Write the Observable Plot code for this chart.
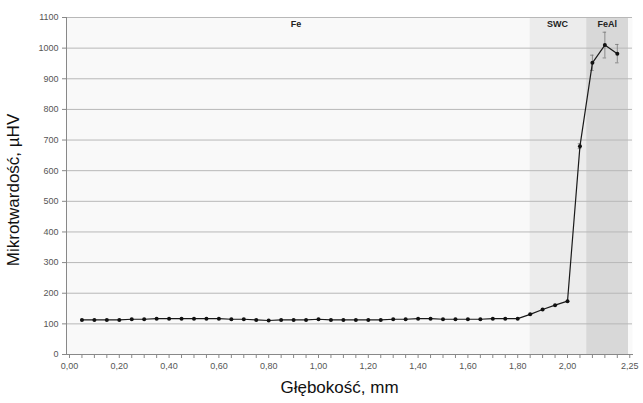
<!DOCTYPE html>
<html><head><meta charset="utf-8">
<script src="https://cdn.jsdelivr.net/npm/d3@7"></script>
<script src="https://cdn.jsdelivr.net/npm/@observablehq/plot@0.6"></script>
<style>
body{margin:0;background:#fff;font-family:"Liberation Sans",Arial,sans-serif;}
#wrap{position:relative;width:643px;height:403px;}
#ytitle{position:absolute;left:4px;top:190px;transform-origin:0 0;transform:rotate(-90deg) translate(-50%,0);font-size:17px;color:#111;white-space:nowrap;}
#xtitle{position:absolute;left:0;width:643px;text-align:center;padding-left:36px;box-sizing:border-box;top:378px;font-size:17px;color:#111;}
</style></head><body>
<div id="wrap"><div id="chart"></div>
<div id="ytitle">Mikrotwardość, µHV</div>
<div id="xtitle">Głębokość, mm</div></div>
<script>
const depth = [0.05,0.10,0.15,0.20,0.25,0.30,0.35,0.40,0.45,0.50,0.55,0.60,0.65,0.70,0.75,0.80,0.85,0.90,0.95,1.00,1.05,1.10,1.15,1.20,1.25,1.30,1.35,1.40,1.45,1.50,1.55,1.60,1.65,1.70,1.75,1.80,1.85,1.90,1.95,2.00,2.05,2.10,2.15,2.20];
const hardness = [113,113,113,113,115,115,117,117,117,117,117,117,115,115,113,111,113,113,113,115,113,113,113,113,113,115,115,117,117,115,115,115,115,117,117,117,131,147,161,174,680,952,1010,982];
const errDepth = [2.05,2.10,2.15,2.20];
const errValue = [680,952,1010,982];
const errSize = [8,25,42,30];
const zoneNames = ["Fe","SWC","FeAl"];
const zoneStart = [null,1.85,2.077];
const zoneEnd = [null,2.077,2.245];
const zoneFill = [null,"#ececec","#d8d8d8"];
const zoneLabelX = [0.91,1.96,2.16];
const xTickValues = [0,0.2,0.4,0.6,0.8,1.0,1.2,1.4,1.6,1.8,2.0,2.25];
const xTickLabels = ["0,00","0,20","0,40","0,60","0,80","1,00","1,20","1,40","1,60","1,80","2,00","2,25"];
const yTicks = [0,100,200,300,400,500,600,700,800,900,1000,1100];

const pts = depth.map((d,i)=>({x:d,y:hardness[i]}));
const errs = errDepth.map((d,i)=>({x:d,lo:errValue[i]-errSize[i],hi:errValue[i]+errSize[i]}));
const zones = zoneNames.map((n,i)=>({n,x1:zoneStart[i],x2:zoneEnd[i],fill:zoneFill[i],lx:zoneLabelX[i]}));
const minor = d3.range(0,2.2501,0.05);
const fmt = new Map(xTickValues.map((v,i)=>[v,xTickLabels[i]]));

const chart = Plot.plot({
  width:643, height:403,
  marginLeft:66, marginRight:11, marginTop:17, marginBottom:49,
  style:{fontFamily:"Liberation Sans, Arial, sans-serif", background:"transparent"},
  x:{domain:[-0.012,2.261]},
  y:{domain:[0,1100]},
  marks:[
    Plot.frame({fill:"#f9f9f9", stroke:null}),
    Plot.rect(zones.filter(z=>z.x1!=null),{x1:"x1",x2:"x2",y1:0,y2:1100,fill:"fill"}),
    Plot.gridY(yTicks.filter(v=>v>0),{stroke:"#b8b8b8",strokeOpacity:1,strokeWidth:1}),
    Plot.axisY({ticks:yTicks, tickSize:4, tickPadding:4, tickFormat:d=>String(d), fontSize:9, color:"#555", label:null, stroke:"#888"}),
    Plot.axisX({ticks:minor, tickSize:4, tickFormat:()=>"" , label:null, stroke:"#888"}),
    Plot.axisX({ticks:xTickValues, tickSize:0, tickPadding:8, tickFormat:v=>fmt.get(v), fontSize:9, color:"#555", label:null}),
    Plot.frame({anchor:"left", stroke:"#888"}),
    Plot.frame({anchor:"bottom", stroke:"#888"}),
    Plot.ruleX(errs,{x:"x",y1:"lo",y2:"hi",stroke:"#777",strokeWidth:0.8}),
    Plot.ruleY(errs,{y:"hi",x1:d=>d.x-0.007,x2:d=>d.x+0.007,stroke:"#777",strokeWidth:0.8}),
    Plot.ruleY(errs,{y:"lo",x1:d=>d.x-0.007,x2:d=>d.x+0.007,stroke:"#777",strokeWidth:0.8}),
    Plot.line(pts,{x:"x",y:"y",stroke:"#1a1a1a",strokeWidth:1.2}),
    Plot.dot(pts,{x:"x",y:"y",r:2,fill:"#111",stroke:null}),
    Plot.text(zones,{x:"lx",y:1100,text:"n",dy:7,fontSize:9,fontWeight:"bold",fill:"#222"})
  ]
});
document.getElementById("chart").append(chart);
</script>
</body></html>
